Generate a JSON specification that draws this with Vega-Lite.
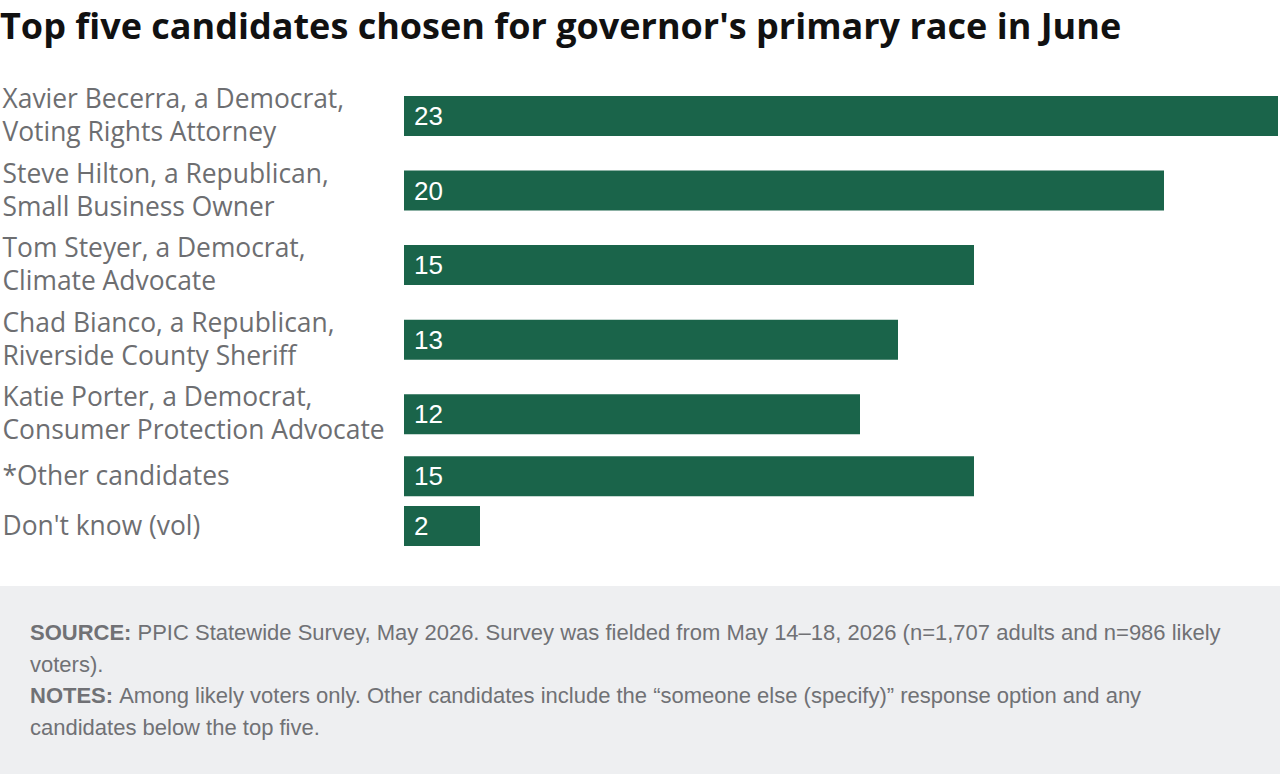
{
  "$schema": "https://vega.github.io/schema/vega-lite/v6.json",
  "width": 1280,
  "height": 774,
  "autosize": {"type": "none"},
  "padding": 0,
  "background": "white",
  "config": {"view": {"stroke": null}},
  "title": {
    "text": "Top five candidates chosen for governor's primary race in June",
    "anchor": "start",
    "frame": "group",
    "font": "Open Sans",
    "fontSize": 36,
    "fontWeight": "bold",
    "color": "#111111",
    "baseline": "alphabetic",
    "offset": 0,
    "dy": 75
  },
  "datasets": {
    "bars": [
      {"candidate": "Xavier Becerra, a Democrat,|Voting Rights Attorney", "pct": 23},
      {"candidate": "Steve Hilton, a Republican,|Small Business Owner", "pct": 20},
      {"candidate": "Tom Steyer, a Democrat,|Climate Advocate", "pct": 15},
      {"candidate": "Chad Bianco, a Republican,|Riverside County Sheriff", "pct": 13},
      {"candidate": "Katie Porter, a Democrat,|Consumer Protection Advocate", "pct": 12},
      {"candidate": "*Other candidates", "pct": 15},
      {"candidate": "Don't know (vol)", "pct": 2}
    ],
    "footer": [
      {"line": 1, "label": "SOURCE:", "text": "PPIC Statewide Survey, May 2026. Survey was fielded from May 14–18, 2026 (n=1,707 adults and n=986 likely"},
      {"line": 2, "label": "", "text": "voters)."},
      {"line": 3, "label": "NOTES:", "text": "Among likely voters only. Other candidates include the “someone else (specify)” response option and any"},
      {"line": 4, "label": "", "text": "candidates below the top five."}
    ]
  },
  "layer": [
    {
      "data": {"values": [{"a": 0}]},
      "mark": {"type": "rect", "color": "#eeeff1"},
      "encoding": {
        "x": {"datum": 0, "type": "quantitative", "scale": {"domain": [0, 1], "range": [0, 1280], "nice": false, "zero": false}, "axis": null},
        "x2": {"datum": 1},
        "y": {"datum": 0, "type": "quantitative", "scale": {"domain": [0, 1], "range": [586, 774], "nice": false, "zero": false}, "axis": null},
        "y2": {"datum": 1}
      }
    },
    {
      "data": {"name": "footer"},
      "transform": [{"filter": "datum.label != ''"}],
      "mark": {"type": "text", "align": "left", "baseline": "middle", "font": "Liberation Sans", "fontSize": 22, "fontWeight": "bold", "color": "#707175"},
      "encoding": {
        "x": {"datum": 0, "type": "quantitative", "scale": {"domain": [0, 1], "range": [30, 1250], "nice": false, "zero": false}, "axis": null},
        "y": {"field": "line", "type": "ordinal", "scale": {"type": "point", "domain": [1, 2, 3, 4], "range": [633, 728], "padding": 0}, "axis": null},
        "text": {"field": "label"}
      }
    },
    {
      "data": {"name": "footer"},
      "mark": {"type": "text", "align": "left", "baseline": "middle", "font": "Liberation Sans", "fontSize": 22, "color": "#707175",
        "dx": {"expr": "datum.line == 1 ? 107.5 : (datum.line == 3 ? 89.2 : 0)"}},
      "encoding": {
        "x": {"datum": 0, "type": "quantitative", "scale": {"domain": [0, 1], "range": [30, 1250], "nice": false, "zero": false}, "axis": null},
        "y": {"field": "line", "type": "ordinal", "scale": {"type": "point", "domain": [1, 2, 3, 4], "range": [633, 728], "padding": 0}, "axis": null},
        "text": {"field": "text"}
      }
    },
    {
      "data": {"name": "bars"},
      "encoding": {
        "y": {
          "field": "candidate",
          "type": "nominal",
          "sort": null,
          "scale": {
            "type": "point",
            "domain": [
              "Xavier Becerra, a Democrat,|Voting Rights Attorney", "~1", "~2", "~3", "~4", "~5",
              "Steve Hilton, a Republican,|Small Business Owner", "~6", "~7", "~8", "~9", "~10",
              "Tom Steyer, a Democrat,|Climate Advocate", "~11", "~12", "~13", "~14", "~15",
              "Chad Bianco, a Republican,|Riverside County Sheriff", "~16", "~17", "~18", "~19", "~20",
              "Katie Porter, a Democrat,|Consumer Protection Advocate", "~21", "~22", "~23", "~24",
              "*Other candidates", "~25", "~26", "~27",
              "Don't know (vol)"
            ],
            "range": [116, 526],
            "padding": 0
          },
          "axis": {
            "title": null,
            "orient": "left",
            "domain": false,
            "ticks": false,
            "tickSize": 0,
            "labelPadding": -2,
            "labelAlign": "left",
            "labelBaseline": "middle",
            "labelFont": "Open Sans",
            "labelFontSize": 26.4,
            "labelColor": "#6d6e71",
            "labelLineHeight": 33,
            "labelLimit": 600,
            "labelOverlap": false,
            "labelOffset": {"condition": {"test": "indexof(datum.value, '|') >= 0", "value": -16.5}, "value": 0},
            "labelExpr": "indexof(datum.label, '~') == 0 ? '' : split(datum.label, '|')"
          }
        }
      },
      "layer": [
        {
          "mark": {"type": "bar", "color": "#1a644a", "height": 40},
          "encoding": {
            "x": {"field": "pct", "type": "quantitative", "scale": {"domain": [0, 23], "range": [404, 1278], "nice": false, "zero": true}, "axis": null}
          }
        },
        {
          "mark": {"type": "text", "align": "left", "baseline": "middle", "dx": 10, "dy": 1, "font": "Liberation Sans", "fontSize": 26, "color": "white"},
          "encoding": {
            "x": {"datum": 0, "type": "quantitative"},
            "text": {"field": "pct", "type": "quantitative"}
          }
        }
      ]
    }
  ],
  "resolve": {"scale": {"x": "independent", "y": "independent"}}
}
